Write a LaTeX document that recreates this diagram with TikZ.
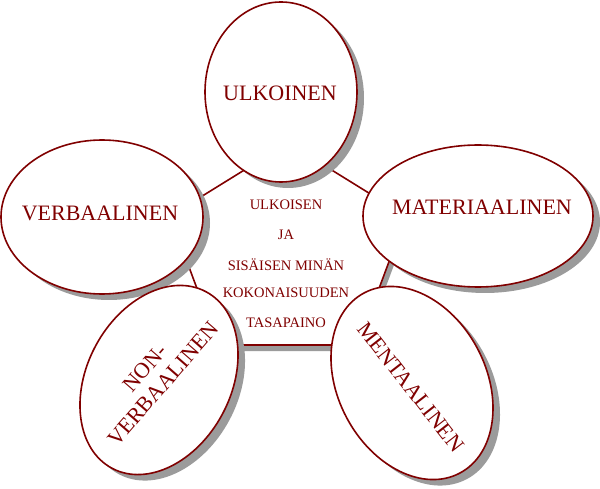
\documentclass[tikz,border=0pt]{standalone}
\usepackage{fontspec}
\setmainfont{Liberation Serif}
\definecolor{maroon}{RGB}{128,0,0}
\definecolor{shadowgray}{RGB}{155,155,155}
\begin{document}
\begin{tikzpicture}[x=1pt,y=1pt,
  outline/.style={draw=maroon, line width=1.6pt, fill=white},
  shade/.style={fill=shadowgray},
  biglabel/.style={text=maroon, font=\fontsize{22}{24}\selectfont, inner sep=0pt, align=center},
  smalllabel/.style={text=maroon, font=\fontsize{14.5}{16}\selectfont, inner sep=0pt}]
\useasboundingbox[fill=white] (0,0) rectangle (600,488);
% central pentagon
\coordinate (pT) at (288,345);
\coordinate (pR) at (406,272);
\coordinate (pBR) at (358,143);
\coordinate (pBL) at (218,143);
\coordinate (pL) at (170,272);
\fill[shade] ([shift={(4,-6)}]pT) -- ([shift={(4,-6)}]pR) -- ([shift={(4,-6)}]pBR) -- ([shift={(4,-6)}]pBL) -- ([shift={(4,-6)}]pL) -- cycle;
\draw[outline] (pT) -- (pR) -- (pBR) -- (pBL) -- (pL) -- cycle;
% ellipse centres
\coordinate (cU) at (281,396);
\coordinate (cV) at (102,271);
\coordinate (cM) at (478,272);
\coordinate (cN) at (159,108);
\coordinate (cE) at (412,105);
% ULKOINEN
\fill[shade] ([shift={(7,-6)}]cU) ellipse [x radius=76, y radius=90];
\draw[outline] (cU) ellipse [x radius=76, y radius=90];
% VERBAALINEN
\fill[shade] ([shift={(7,-6)}]cV) ellipse [x radius=101, y radius=77];
\draw[outline] (cV) ellipse [x radius=101, y radius=77];
% MATERIAALINEN
\fill[shade] ([shift={(7,-6)}]cM) ellipse [x radius=115, y radius=71];
\draw[outline] (cM) ellipse [x radius=115, y radius=71];
% NON-VERBAALINEN
\fill[shade] ([shift={(7,-6)}]cN) ellipse [x radius=100, y radius=72, rotate=62];
\draw[outline] (cN) ellipse [x radius=100, y radius=72, rotate=62];
% MENTAALINEN
\fill[shade] ([shift={(7,-6)}]cE) ellipse [x radius=102, y radius=74, rotate=-62];
\draw[outline] (cE) ellipse [x radius=102, y radius=74, rotate=-62];
% labels
\node[biglabel] (lU) at (280,395) {ULKOINEN};
\node[biglabel] (lV) at (100,275) {VERBAALINEN};
\node[biglabel] (lM) at (482,281) {MATERIAALINEN};
\node[biglabel, rotate=49, font=\fontsize{22}{24}\selectfont] (lN) at (154,112) {NON-\\VERBAALINEN};
\node[biglabel, rotate=-52] (lE) at (411,101) {MENTAALINEN};
% central text
\node[smalllabel] (t1) at (286,283) {ULKOISEN};
\node[smalllabel] (t2) at (286,253) {JA};
\node[smalllabel] (t3) at (286,223) {SISÄISEN MINÄN};
\node[smalllabel] (t4) at (286,195) {KOKONAISUUDEN};
\node[smalllabel] (t5) at (286,165) {TASAPAINO};
\end{tikzpicture}
\end{document}
